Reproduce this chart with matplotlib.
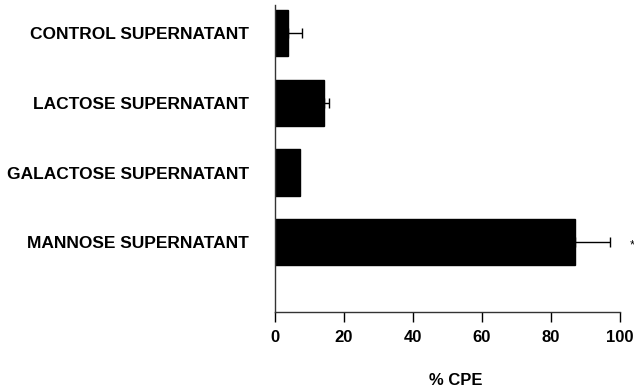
import numpy as np
import matplotlib
matplotlib.use("Agg")
import matplotlib.pyplot as plt

plt.rcParams['font.family'] = ['Liberation Sans', 'DejaVu Sans']

categories = ["CONTROL SUPERNATANT", "LACTOSE SUPERNATANT",
              "GALACTOSE SUPERNATANT", "MANNOSE SUPERNATANT"]
cpe = [3.8, 14.2, 7.2, 87.0]
cpe_err = [4.0, 1.5, 0.0, 10.0]
x_ticks = [0, 20, 40, 60, 80, 100]

fig = plt.figure(figsize=(6.34, 3.92), dpi=100)
ax = fig.add_axes([0.4338, 0.204, 0.5442, 0.783])

ypos = np.arange(len(categories))
ax.barh(ypos, cpe, height=0.66, color='black', edgecolor='black')
for y, v, e in zip(ypos, cpe, cpe_err):
    if e > 0:
        ax.errorbar(v, y, xerr=[[0], [e]], fmt='none', ecolor='black',
                    elinewidth=1, capsize=3.5, capthick=1)

# significance marker
ax.text(cpe[3] + cpe_err[3] + 6.5, ypos[3] + 0.05, '*', ha='center', va='center',
        fontsize=9, clip_on=False)

ax.set_ylim(4.0, -0.4)
ax.set_xlim(0, 100)
ax.set_yticks(ypos)
ax.set_yticklabels(categories, fontsize=12.5, fontweight='bold')
ax.tick_params(axis='y', length=0, pad=18.5)
ax.set_xticks(x_ticks)
ax.set_xticklabels([str(t) for t in x_ticks], fontsize=12, fontweight='bold')
ax.tick_params(axis='x', length=7, width=1, pad=6, direction='out')
ax.set_xlabel('% CPE', fontsize=12, fontweight='bold')
ax.xaxis.set_label_coords(0.525, -0.2)

for s in ['top', 'right']:
    ax.spines[s].set_visible(False)
for s in ['left', 'bottom']:
    ax.spines[s].set_linewidth(1)
    ax.spines[s].set_color('#333333')

fig.savefig('out.png', dpi=100)
